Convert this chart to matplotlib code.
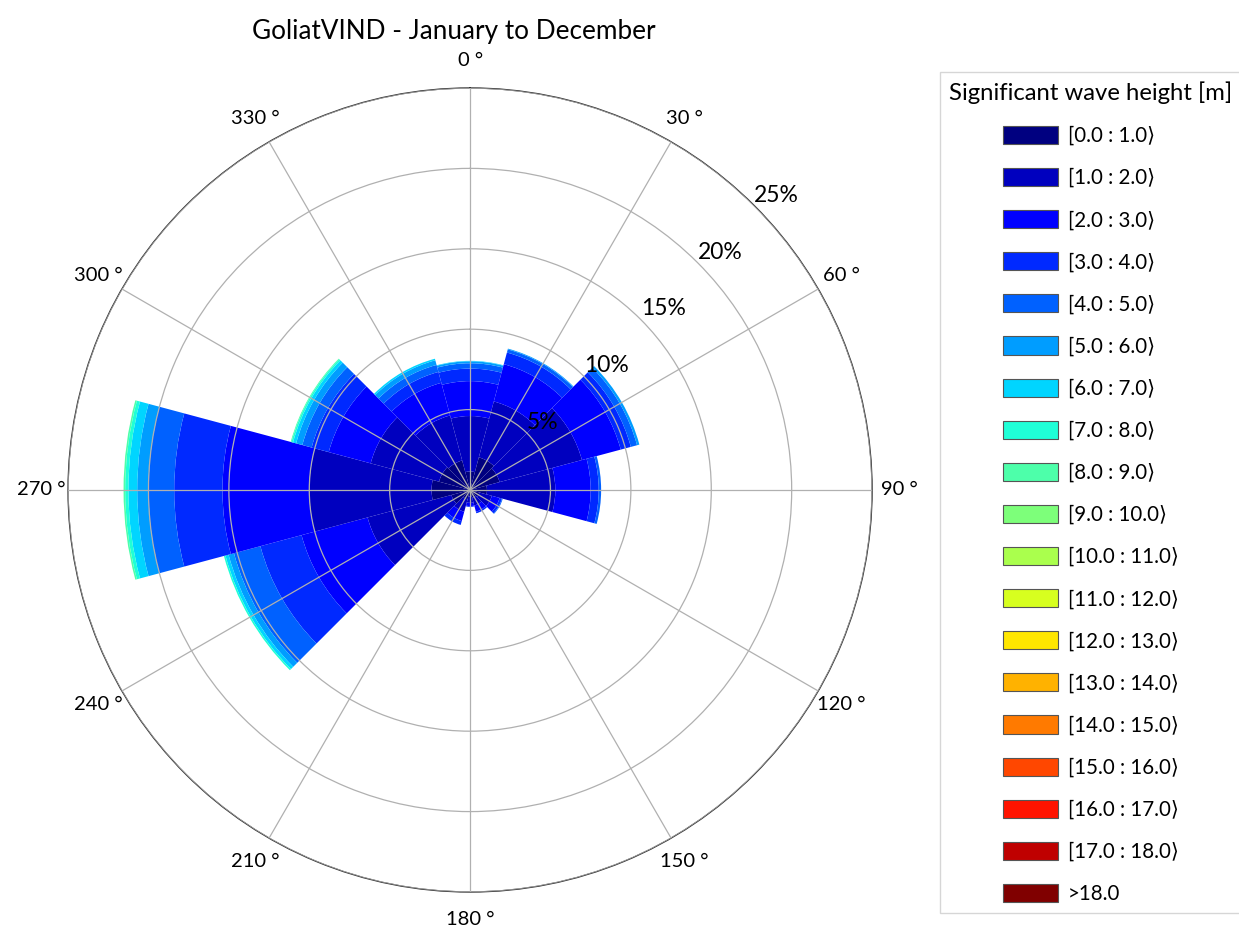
import numpy as np
import matplotlib.pyplot as plt
from matplotlib.patches import Patch

plt.rcParams['font.family'] = ['Lato', 'DejaVu Sans']

# wave height bins (legend labels)
bin_labels = ['[%.1f : %.1f\u27e9' % (i, i + 1) for i in range(18)] + ['>18.0']

# direction sectors (deg, clockwise from north)
directions = [0, 30, 60, 90, 120, 150, 180, 210, 240, 270, 300, 330]

# cumulative frequency (%) per direction, one value per wave height bin (0-1, 1-2, ...)
cum_0 = [1.15, 4.6, 6.77, 7.55, 7.88, 8.0, 8.03]
cum_30 = [2.1, 5.7, 8.1, 8.85, 9.05, 9.1]
cum_60 = [1.9, 7.2, 9.7, 10.35, 10.75, 10.9]
cum_90 = [1.05, 5.3, 7.5, 8.0, 8.15]
cum_120 = [0.6, 1.4, 1.9, 2.05, 2.1]
cum_150 = [0.5, 1.0, 1.4, 1.5]
cum_180 = [0.4, 0.8, 1.0, 1.05]
cum_210 = [0.6, 1.4, 2.0, 2.25]
cum_240 = [1.2, 6.6, 10.85, 13.5, 15.2, 15.55, 15.75, 15.85]
cum_270 = [2.4, 10.0, 15.4, 18.4, 20.0, 20.7, 21.25, 21.45, 21.55]
cum_300 = [2.0, 6.4, 9.1, 10.2, 10.8, 11.2, 11.4, 11.5, 11.55]
cum_330 = [1.9, 4.8, 6.9, 7.6, 8.05, 8.35, 8.45]
cum_pct = [cum_0, cum_30, cum_60, cum_90, cum_120, cum_150,
           cum_180, cum_210, cum_240, cum_270, cum_300, cum_330]

colors = plt.cm.jet(np.linspace(0, 1, len(bin_labels)))

fig = plt.figure(figsize=(12.39, 9.31), dpi=100)
ax = fig.add_axes([0.0549, 0.0419, 0.649, 0.8636], projection='polar')
ax.set_theta_zero_location('N')
ax.set_theta_direction(-1)

width = np.deg2rad(30)
for d, cum in zip(directions, cum_pct):
    bottom = 0
    for k, top in enumerate(cum):
        ax.bar(np.deg2rad(d), top - bottom, width=width, bottom=bottom,
               color=colors[k], linewidth=0, zorder=2)
        bottom = top

ax.set_ylim(0, 25)
ax.set_rgrids([5, 10, 15, 20, 25], labels=['5%', '10%', '15%', '20%', '25%'],
              angle=45, fontsize=16.5)
ax.set_thetagrids(directions, labels=['%d \u00b0' % d for d in directions],
                  fontsize=14.5)
ax.tick_params(axis='x', pad=9)
ax.grid(True, color='#b0b0b0', lw=0.9, zorder=3)
ax.set_axisbelow(False)
ax.spines['polar'].set_color('#333333')
ax.spines['polar'].set_linewidth(1.0)

fig.text(454 / 1239, 1 - 32 / 931, 'GoliatVIND - January to December',
         ha='center', va='center', fontsize=18.8)

handles = [Patch(facecolor=c, edgecolor='#555555', linewidth=0.8) for c in colors]
leg = fig.legend(handles, bin_labels, loc='upper left',
                 bbox_to_anchor=(940 / 1239, 1 - 72 / 931), borderaxespad=0,
                 title='Significant wave height [m]', fontsize=14.8,
                 title_fontsize=17.2, frameon=True, fancybox=False,
                 handlelength=2.68, handleheight=0.98, handletextpad=0.5,
                 labelspacing=1.07, borderpad=0.45)
leg.get_frame().set_edgecolor('#cccccc')

fig.savefig('out.png', dpi=100)
plt.close()
